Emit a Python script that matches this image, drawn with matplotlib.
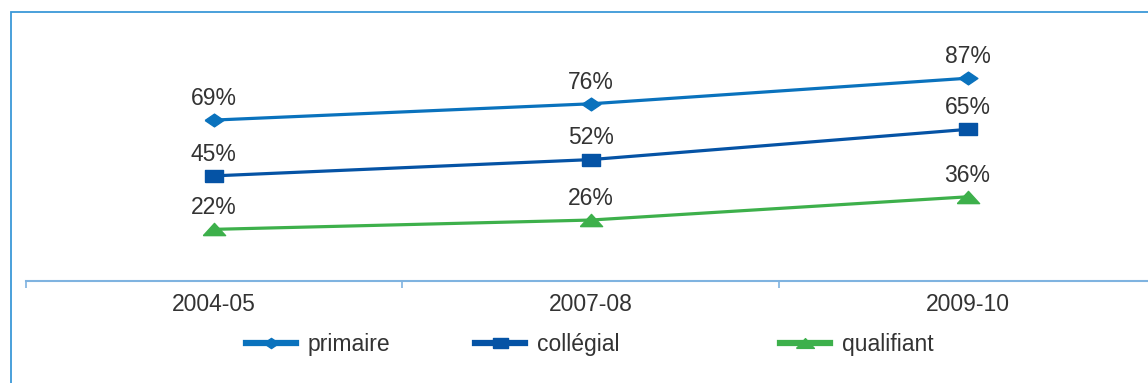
import matplotlib.pyplot as plt
from matplotlib.lines import Line2D
from matplotlib.patches import Rectangle

plt.rcParams['font.family'] = ['Liberation Sans', 'DejaVu Sans']

years = ["2004-05", "2007-08", "2009-10"]
primaire = [69, 76, 87]
collegial = [45, 52, 65]
qualifiant = [22, 26, 36]

c_prim = "#0a72bd"
c_coll = "#0553a5"
c_qual = "#3db04b"
txt = "#333333"

# marker shapes (wide diamond, wide square, wide triangle)
m_diamond = [(-1, 0), (0, 0.68), (1, 0), (0, -0.68), (-1, 0)]
m_rect = [(-1, -0.68), (1, -0.68), (1, 0.68), (-1, 0.68), (-1, -0.68)]
m_tri = [(-1, -0.55), (1, -0.55), (0, 0.55), (-1, -0.55)]

W, H = 1148, 383
fig = plt.figure(figsize=(W / 100, H / 100), dpi=100)

fig.patches.append(Rectangle((11 / W, -0.5), 2, (1 - 12 / H) + 0.5,
                             transform=fig.transFigure, fill=False,
                             edgecolor="#3b98d8", linewidth=1.3))

ax = fig.add_axes([25.5 / W, (H - 280.5) / H, (1156 - 25.5) / W, 232.5 / H])
x = list(range(len(years)))

series = [
    (primaire, c_prim, m_diamond, 13.5, "primaire"),
    (collegial, c_coll, m_rect, 13.5, "collégial"),
    (qualifiant, c_qual, m_tri, 16, "qualifiant"),
]
for vals, col, mk, ms, name in series:
    ax.plot(x, vals, color=col, lw=2.3, marker=mk, markersize=ms)
    for xi, v in zip(x, vals):
        ax.annotate(f"{v}%", (xi, v), xytext=(0, 11), textcoords="offset points",
                    ha="center", va="baseline", fontsize=16.5, color=txt)

ax.set_xlim(-0.5, 2.5)
ax.set_ylim(0, 100)
ax.set_xticks([-0.5, 0.5, 1.5, 2.5])
ax.set_xticklabels([])
ax.set_xticks(x, minor=True)
ax.set_xticklabels(years, minor=True, fontsize=16.5, color=txt)
ax.tick_params(axis="x", which="major", length=5, width=1.2, color="#7fb3e0", direction="out")
ax.tick_params(axis="x", which="minor", length=0, pad=9)
ax.set_yticks([])
for s in ["top", "right", "left"]:
    ax.spines[s].set_visible(False)
ax.spines["bottom"].set_color("#7fb3e0")
ax.spines["bottom"].set_linewidth(1.5)
ax.patch.set_alpha(0)

# legend, one entry at a time
leg_x = [246, 475, 780]
for (vals, col, mk, ms, name), lx in zip(series, leg_x):
    h = Line2D([], [], color=col, lw=4.5, marker=mk, markersize=ms * 0.8)
    lg = fig.legend([h], [name], loc="center left",
                    bbox_to_anchor=(lx / W, 1 - 345 / H), frameon=False,
                    fontsize=16.5, handlelength=2.2, handletextpad=0.5,
                    borderpad=0, borderaxespad=0)
    for t in lg.get_texts():
        t.set_color(txt)

fig.savefig("out.png", dpi=100)
